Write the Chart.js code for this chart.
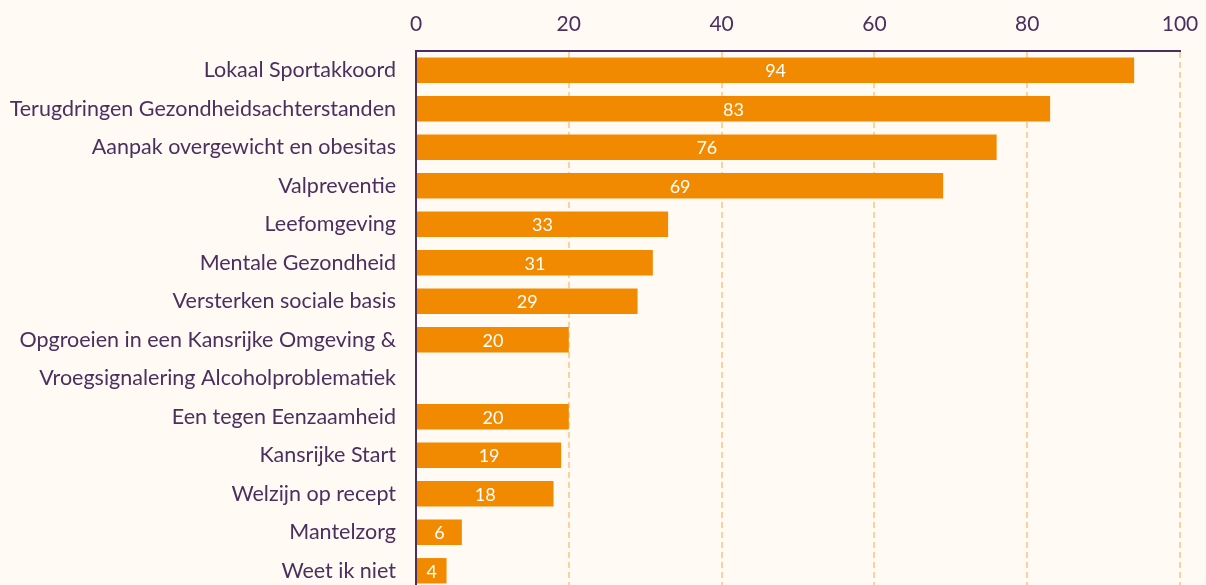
<!DOCTYPE html>
<html>
<head>
<meta charset="utf-8">
<script src="https://cdn.jsdelivr.net/npm/chart.js@4/dist/chart.umd.min.js"></script>
<style>
  html, body { margin: 0; padding: 0; background: #fffaf3; overflow: hidden; }
  canvas { display: block; }
</style>
</head>
<body>
<canvas id="myChart" width="1206" height="590"></canvas>
<script>
const categories = [
    'Lokaal Sportakkoord',
    'Terugdringen Gezondheidsachterstanden',
    'Aanpak overgewicht en obesitas',
    'Valpreventie',
    'Leefomgeving',
    'Mentale Gezondheid',
    'Versterken sociale basis',
    'Opgroeien in een Kansrijke Omgeving &',
    'Vroegsignalering Alcoholproblematiek',
    'Een tegen Eenzaamheid',
    'Kansrijke Start',
    'Welzijn op recept',
    'Mantelzorg',
    'Weet ik niet'
];
const values = [94, 83, 76, 69, 33, 31, 29, 20, null, 20, 19, 18, 6, 4];
const xTicks = [0, 20, 40, 60, 80, 100];

const purple = '#4b2f5f';
const orange = '#f28a00';

// waarden in het midden van de balk
const barLabels = {
    id: 'barLabels',
    afterDatasetsDraw(chart) {
        const ctx = chart.ctx;
        ctx.save();
        ctx.font = '18px Lato';
        ctx.fillStyle = '#ffffff';
        ctx.textAlign = 'center';
        ctx.textBaseline = 'middle';
        chart.getDatasetMeta(0).data.forEach((bar, i) => {
            if (values[i] == null) return;
            ctx.fillText(values[i], (bar.base + bar.x) / 2, bar.y + 1);
        });
        ctx.restore();
    }
};

const ctx = document.getElementById('myChart').getContext('2d');
const myChart = new Chart(ctx, {
    type: 'bar',
    data: {
        labels: categories,
        datasets: [{
            data: values,
            backgroundColor: orange,
            borderWidth: 0,
            categoryPercentage: 1,
            barPercentage: 0.66
        }]
    },
    plugins: [barLabels],
    options: {
        indexAxis: 'y',
        responsive: false,
        animation: false,
        layout: { padding: { top: 0, right: 26, bottom: 0, left: 0 } },
        plugins: {
            legend: { display: false },
            tooltip: { enabled: false }
        },
        scales: {
            x: {
                position: 'top',
                min: 0,
                max: 100,
                afterBuildTicks: scale => { scale.ticks = xTicks.map(v => ({ value: v })); },
                afterFit: scale => {
                    scale.height = 51;
                    scale.paddingLeft = 0;
                    scale.paddingRight = 0;
                },
                ticks: { color: purple, font: { family: 'Lato', size: 21 }, padding: 14 },
                grid: {
                    drawTicks: false,
                    color: ctx => ctx.tick && ctx.tick.value === 0 ? 'rgba(0,0,0,0)' : '#fcd29c',
                    lineWidth: 2
                },
                border: { display: true, color: purple, width: 2, dash: [6, 4] }
            },
            y: {
                afterFit: scale => {
                    scale.width = 416;
                    scale.paddingTop = 0;
                    scale.paddingBottom = 0;
                },
                ticks: { color: purple, font: { family: 'Lato', size: 21.5 }, padding: 20 },
                grid: { display: false, drawTicks: false },
                border: { display: true, color: purple, width: 2 }
            }
        }
    }
});
</script>
</body>
</html>
